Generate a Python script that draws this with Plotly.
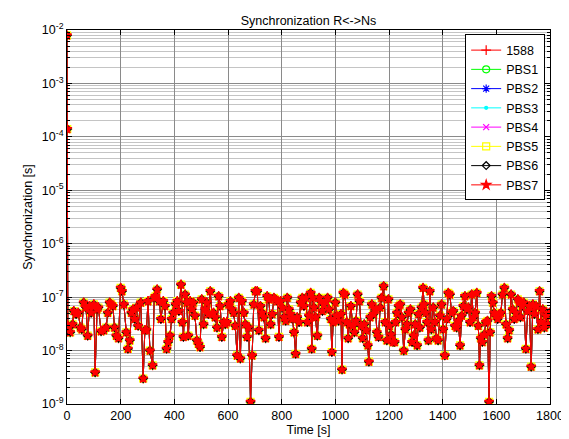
import plotly.graph_objects as go

# Time axis samples [s]
time_s = [0, 1,
    3, 12, 21, 25, 34, 42, 50, 55, 62, 71,
    77, 84, 90, 100, 105, 112, 117, 127, 137, 146,
    152, 159, 165, 171, 177, 184, 192, 200, 205, 212,
    221, 227, 234, 240, 246, 252, 259, 265, 275, 284,
    290, 296, 302, 309, 319, 325, 330, 336, 344, 350,
    359, 365, 371, 377, 384, 390, 396, 405, 411, 417,
    425, 430, 434, 440, 446, 452, 459, 465, 471, 477,
    484, 490, 496, 502, 509, 515, 521, 527, 534, 540,
    546, 552, 559, 565, 571, 577, 584, 590, 596, 602,
    609, 615, 621, 627, 634, 640, 646, 652, 659, 665,
    671, 677, 684, 690, 696, 702, 709, 715, 721, 727,
    734, 740, 746, 752, 759, 765, 771, 777, 784, 790,
    796, 802, 809, 815, 821, 827,
    833, 840, 846, 852, 858, 865, 871, 877, 883, 890,
    896, 902, 908, 912, 917, 921, 927, 933, 940, 946,
    952, 958, 965, 971, 977, 983, 987, 992, 1000, 1005,
    1012, 1021, 1025, 1030, 1036, 1042, 1048, 1052, 1058, 1065,
    1071, 1077, 1083, 1090, 1096, 1102, 1108, 1115, 1121, 1125,
    1130, 1136, 1142, 1150, 1155, 1161, 1167, 1172, 1180, 1186,
    1192, 1198, 1202, 1208, 1215, 1221, 1225, 1230, 1236, 1242,
    1248, 1255, 1261, 1267, 1273, 1280, 1286, 1292, 1298, 1305,
    1310, 1315, 1321, 1327, 1331, 1337, 1342, 1347, 1352, 1358,
    1365, 1371, 1377, 1383, 1390, 1396, 1402, 1408, 1415, 1421,
    1427, 1433, 1440, 1446, 1452, 1458, 1465, 1471, 1477, 1483,
    1490, 1496, 1502, 1508, 1515, 1521, 1527, 1533, 1537, 1542,
    1548, 1555, 1561, 1567, 1573, 1577, 1582, 1587, 1592, 1598,
    1605, 1611, 1617, 1623, 1630, 1636, 1642, 1648, 1655, 1661,
    1667, 1673, 1680, 1685, 1690, 1696, 1702, 1710, 1717, 1723,
    1730, 1736, 1742, 1748, 1755, 1761,
    1767, 1773, 1779, 1786, 1792, 1798]

# Synchronization error [ns]
sync_ns = [7.9e6, 1.4e5,
    29, 22, 31, 55, 48, 51, 27, 25, 79, 64,
    19, 68, 51, 73, 3.9, 59, 64, 23, 24, 27,
    51, 79, 73, 68, 27, 19, 17, 149, 129, 73,
    22, 10.8, 15.5, 51, 59, 39, 64, 29, 79, 3.0,
    24, 24.5, 84, 10, 5.3, 97, 104, 139, 84, 39,
    84, 68, 10.8, 14.4, 19, 39, 51, 73, 84, 55,
    171, 34, 18, 112, 79, 19, 84, 59, 79, 45,
    15.5, 13.4, 11.6, 91, 31, 59, 79, 48, 129, 48,
    51, 42, 27, 104, 68, 18, 34, 31, 34, 73,
    84, 59, 51, 29, 8.1, 97, 7.1, 84, 51, 31,
    18, 27, 1.1, 8.1, 73, 129, 129, 24, 68, 51,
    42, 17, 104, 91, 31, 48, 97, 91, 84, 18,
    84, 64, 42, 36, 97, 59,
    48, 39, 22, 8.7, 42, 34, 79, 97, 68, 97,
    34, 45, 120, 10.8, 97, 64, 42, 19, 97, 84,
    55, 73, 84, 97, 59, 39, 9.4, 34, 79, 45,
    36, 48, 4.4, 120, 112, 34, 17, 31, 68, 29,
    22, 36, 112, 84, 29, 17, 31, 24, 12.5, 6.2,
    42, 73, 48, 59, 22, 18, 64, 97, 160, 34,
    15.5, 91, 29, 20, 14.4, 14.4, 34, 51, 68, 73,
    42, 10, 25, 31, 51, 59, 14.4, 19, 31, 12.5,
    48, 27, 64, 149, 73, 51, 34, 15.5, 129, 25,
    64, 34, 17, 15.5, 45, 73, 25, 8.1, 39, 120,
    112, 51, 55, 29, 27, 36, 12.5, 45, 68, 104,
    59, 64, 34, 112, 42, 51, 120, 29, 5.3, 17,
    14.4, 20, 34, 36, 1.1, 22, 104, 79, 51, 45,
    39, 48, 51, 112, 149, 31, 17, 24, 112, 59,
    39, 51, 91, 84, 42, 68, 79, 10.8, 55, 68,
    5.0, 73, 48, 68, 25, 129,
    34, 59, 27, 45, 31, 51]

series_names = ["1588", "PBS1", "PBS2", "PBS3", "PBS4", "PBS5", "PBS6", "PBS7"]
series_colors = ["#ff0000", "#00ff00", "#0000ff", "#00ffff", "#ff00ff", "#ffff00", "#000000", "#ff0000"]
series_symbols = ["cross-thin-open", "circle-open", "asterisk-open", "circle", "x-thin-open",
                  "square-open", "diamond-open", "star"]
series_sizes = [7, 7, 7, 3, 6, 7, 6, 7]

ytick_vals = [1e-9, 1e-8, 1e-7, 1e-6, 1e-5, 1e-4, 1e-3, 1e-2]
ytick_text = ["10<sup>-9</sup>", "10<sup>-8</sup>", "10<sup>-7</sup>", "10<sup>-6</sup>",
              "10<sup>-5</sup>", "10<sup>-4</sup>", "10<sup>-3</sup>", "10<sup>-2</sup>"]

sync_s = [v * 1e-9 for v in sync_ns]
minor_vals = [m * d for d in ytick_vals[:-1] for m in range(2, 10)]

FS = 12.5

fig = go.Figure()
for name, col, sym, sz in zip(series_names, series_colors, series_symbols, series_sizes):
    fig.add_trace(go.Scatter(
        x=time_s, y=sync_s, mode="lines+markers", name=name, legendgroup=name,
        line=dict(color=col, width=1),
        marker=dict(symbol=sym, color=col, size=sz, line=dict(color=col, width=1.2)),
    ))

axis_common = dict(showline=True, linecolor="black", linewidth=1, mirror="ticks",
                   ticks="inside", ticklen=5, tickcolor="black", zeroline=False,
                   tickfont=dict(size=FS, color="black"))

fig.update_layout(
    width=569, height=439,
    margin=dict(l=59, r=27, t=22, b=38),
    paper_bgcolor="white", plot_bgcolor="white",
    font=dict(family="Liberation Sans, Arial, sans-serif", size=FS, color="black"),
    title=dict(text="Synchronization R&lt;-&gt;Ns", x=0.5, xref="paper", xanchor="center",
               y=1 - 13 / 439, yref="container", yanchor="middle", font=dict(size=FS)),
    showlegend=True,
    legend=dict(x=0.99, y=0.988, xanchor="right", yanchor="top", bgcolor="white",
                bordercolor="black", borderwidth=1, font=dict(size=FS), tracegroupgap=0,
                itemwidth=30),
    xaxis=dict(range=[0, 1800], tick0=0, dtick=200, showgrid=True, gridcolor="#8a8a8a",
               gridwidth=1, title=dict(text="Time [s]", standoff=3, font=dict(size=FS)),
               **axis_common),
    yaxis=dict(type="log", range=[-9, -2], tickmode="array", tickvals=ytick_vals,
               ticktext=ytick_text, showgrid=True, gridcolor="#8a8a8a", gridwidth=1,
               minor=dict(tickmode="array", tickvals=minor_vals, ticks="inside", ticklen=3,
                          tickcolor="black", showgrid=True, gridcolor="#c4c4c4", gridwidth=1),
               title=dict(text="Synchronization [s]", standoff=6, font=dict(size=FS)),
               **axis_common),
)

fig.write_html("out.html")
